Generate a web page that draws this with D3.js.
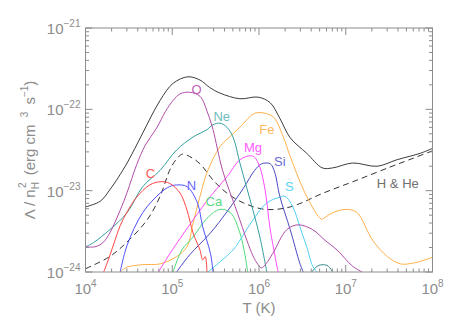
<!DOCTYPE html>
<html>
<head>
<meta charset="utf-8">
<script src="https://cdn.jsdelivr.net/npm/d3@7"></script>
<style>
  body { margin: 0; background: #fff; }
  text { font-family: "Liberation Sans", "DejaVu Sans", sans-serif; }
</style>
</head>
<body>
<svg id="chart" width="458" height="327"></svg>
<script>
// cooling function curves, pairs of [log10 T (K), log10 Lambda/nH^2 (erg cm^3 s^-1)]
const total = [[4.0,-23.20],[4.17,-23.13],[4.28,-22.99],[4.48,-22.66],[4.66,-22.29],[4.86,-21.89],
  [5.01,-21.68],[5.18,-21.60],[5.32,-21.64],[5.43,-21.73],[5.55,-21.80],[5.78,-21.87],[5.99,-21.85],
  [6.13,-21.92],[6.24,-22.11],[6.36,-22.35],[6.55,-22.54],[6.73,-22.72],[6.85,-22.72],[7.08,-22.66],
  [7.36,-22.70],[7.59,-22.62],[7.86,-22.54],[8.0,-22.48]];
const hHe = [[4.0,-23.96],[4.28,-23.81],[4.47,-23.64],[4.71,-23.36],[4.86,-23.07],[4.97,-22.75],
  [5.05,-22.61],[5.12,-22.55],[5.20,-22.58],[5.32,-22.67],[5.47,-22.87],[5.63,-23.03],[5.82,-23.15],
  [6.07,-23.23],[6.36,-23.20],[6.74,-23.03],[7.13,-22.87],[7.51,-22.71],[7.78,-22.60],[8.0,-22.51]];
const carbon = [[4.21,-24.0],[4.27,-23.83],[4.34,-23.61],[4.40,-23.43],[4.48,-23.26],[4.59,-23.08],
  [4.74,-22.93],[4.86,-22.89],[4.97,-22.91],[5.09,-23.03],[5.17,-23.24],[5.24,-23.52],[5.32,-23.73],
  [5.35,-23.85],[5.38,-23.81],[5.40,-24.0]];
const nitrogen = [[4.40,-24.0],[4.48,-23.67],[4.66,-23.27],[4.86,-23.03],[4.97,-22.95],[5.05,-22.93],
  [5.17,-22.95],[5.29,-23.15],[5.35,-23.44],[5.44,-23.77],[5.47,-24.0]];
const oxygen = [[4.0,-23.69],[4.11,-23.69],[4.20,-23.64],[4.28,-23.52],[4.40,-23.24],[4.48,-23.02],
  [4.59,-22.68],[4.69,-22.44],[4.82,-22.23],[4.92,-22.03],[5.01,-21.89],[5.09,-21.81],[5.20,-21.79],
  [5.32,-21.84],[5.41,-22.05],[5.47,-22.25],[5.58,-22.75],[5.75,-23.27],[5.86,-23.61],[5.93,-23.80],
  [5.99,-23.91],[6.03,-23.95],[6.08,-23.90],[6.16,-23.77],[6.32,-23.48],[6.45,-23.42],[6.62,-23.48],
  [6.76,-23.61],[6.90,-23.73],[7.08,-23.93],[7.19,-24.0]];
const neon = [[4.0,-23.69],[4.09,-23.64],[4.28,-23.48],[4.48,-23.27],[4.66,-22.95],[4.86,-22.75],
  [5.05,-22.50],[5.24,-22.34],[5.40,-22.25],[5.47,-22.19],[5.55,-22.17],[5.63,-22.22],[5.70,-22.34],
  [5.78,-22.66],[5.86,-22.97],[5.93,-23.24],[6.01,-23.57],[6.09,-24.0]];
const iron = [[4.40,-24.0],[4.48,-23.94],[4.66,-23.91],[4.86,-23.90],[5.05,-23.81],[5.17,-23.69],
  [5.24,-23.40],[5.32,-23.07],[5.40,-22.78],[5.55,-22.46],[5.67,-22.33],[5.78,-22.22],[5.93,-22.06],
  [6.01,-22.04],[6.16,-22.09],[6.28,-22.34],[6.36,-22.58],[6.55,-23.07],[6.72,-23.35],[6.76,-23.33],
  [6.85,-23.27],[7.01,-23.23],[7.13,-23.27],[7.31,-23.61],[7.48,-23.81],[7.63,-23.90],[7.78,-23.89],
  [8.0,-23.82]];
const magnesium = [[4.84,-24.0],[5.00,-23.73],[5.24,-23.36],[5.44,-23.07],[5.63,-22.83],[5.78,-22.62],
  [5.90,-22.57],[5.95,-22.59],[6.01,-22.71],[6.07,-22.99],[6.13,-23.48],[6.22,-24.0]];
const silicon = [[5.05,-24.0],[5.20,-23.79],[5.44,-23.52],[5.63,-23.26],[5.82,-22.97],[5.95,-22.75],
  [6.03,-22.67],[6.13,-22.67],[6.18,-22.77],[6.24,-23.07],[6.36,-23.48],[6.47,-23.89],[6.51,-24.0]];
const sulphur = [[5.41,-24.0],[5.70,-23.73],[5.78,-23.61],[5.93,-23.36],[6.09,-23.15],[6.24,-23.08],
  [6.30,-23.07],[6.39,-23.20],[6.47,-23.44],[6.55,-23.69],[6.62,-23.93],[6.67,-24.0]];
const calcium = [[5.01,-24.0],[5.11,-23.73],[5.24,-23.57],[5.40,-23.34],[5.55,-23.23],[5.67,-23.27],
  [5.78,-23.52],[5.84,-23.80],[5.87,-24.0]];
const other = [[6.61,-24.0],[6.67,-23.93],[6.74,-23.91],[6.80,-23.93],[6.85,-24.0]];

// label anchors [text, log T, log Lambda]
const labels = [["O",5.28,-21.75],["Ne",5.57,-22.09],["Fe",6.09,-22.25],["C",4.75,-22.79],
  ["N",5.22,-22.94],["Ca",5.48,-23.13],["Mg",5.93,-22.47],["Si",6.24,-22.64],["S",6.35,-22.95],
  ["H & He",7.60,-22.91]];
const xDecades = [4,5,6,7,8];
const yDecades = [-24,-23,-22,-21];

const W = 458, H = 327;
const M = {top:28, right:25.5, bottom:55, left:85.5};
const svg = d3.select("#chart");
const grey = "#8c8c8c";

const X = d3.scaleLog().domain([1e4,1e8]).range([M.left, W-M.right]);
const Y = d3.scaleLog().domain([1e-24,1e-21]).range([H-M.bottom, M.top]);

svg.append("defs").append("clipPath").attr("id","clip")
  .append("rect").attr("x",M.left).attr("y",M.top)
  .attr("width",W-M.left-M.right).attr("height",H-M.top-M.bottom);

const line = d3.line()
  .x(d=>X(10**d[0]))
  .y(d=>Y(10**d[1]))
  .curve(d3.curveCatmullRom.alpha(0.5));

const series = [
  {d:hHe, c:"#333", dash:"6,4"},
  {d:other, c:"#2f8585"},
  {d:iron, c:"#ffb04a"},
  {d:calcium, c:"#4ed87a"},
  {d:sulphur, c:"#4fd0f2"},
  {d:silicon, c:"#4a4ac2"},
  {d:magnesium, c:"#ff4cff"},
  {d:neon, c:"#349e9e"},
  {d:nitrogen, c:"#5050ff"},
  {d:carbon, c:"#ff4444"},
  {d:oxygen, c:"#b04ca8"},
  {d:total, c:"#3c3c3c"}
];

const plot = svg.append("g").attr("clip-path","url(#clip)");
series.forEach(s=>{
  plot.append("path")
    .attr("d",line(s.d))
    .attr("fill","none")
    .attr("stroke",s.c)
    .attr("stroke-width",1)
    .attr("stroke-dasharray",s.dash||null);
});

// labels in series colours
const labelColour = {"O":"#c060b8","Ne":"#6cbcbc","Fe":"#ffb860","C":"#ff5a5a","N":"#6a6aff",
  "Ca":"#5ada86","Mg":"#ff5cff","Si":"#6a6ad0","S":"#5ad4f2","H & He":"#707070"};
svg.append("g").selectAll("text").data(labels).join("text")
  .attr("x",d=>X(10**d[1]))
  .attr("y",d=>Y(10**d[2]))
  .attr("dy","0.35em")
  .attr("text-anchor","middle")
  .attr("font-size",13)
  .attr("fill",d=>labelColour[d[0]])
  .text(d=>d[0]);

// frame and ticks
const frame = svg.append("g").attr("stroke",grey).attr("stroke-width",1).attr("fill","none");
frame.append("rect").attr("x",M.left).attr("y",M.top)
  .attr("width",W-M.left-M.right).attr("height",H-M.top-M.bottom);

const xt = [], yt = [];
xDecades.forEach(p=>{ for(let m=1;m<=9;m++){ const v=m*10**p; if(v<=1e8) xt.push([v,m===1]); } });
yDecades.forEach(p=>{ for(let m=1;m<=9;m++){ const v=m*10**p; if(v<=1.0001e-21) yt.push([v,m===1]); } });

xt.forEach(([v,maj])=>{
  const L = maj?7:3.5, px = X(v);
  frame.append("line").attr("x1",px).attr("x2",px).attr("y1",H-M.bottom).attr("y2",H-M.bottom-L);
  frame.append("line").attr("x1",px).attr("x2",px).attr("y1",M.top).attr("y2",M.top+L);
});
yt.forEach(([v,maj])=>{
  const L = maj?7:3.5, py = Y(v);
  frame.append("line").attr("x1",M.left).attr("x2",M.left+L).attr("y1",py).attr("y2",py);
  frame.append("line").attr("x1",W-M.right).attr("x2",W-M.right-L).attr("y1",py).attr("y2",py);
});

// tick labels
const tl = svg.append("g").attr("fill",grey).attr("font-size",15);
xDecades.forEach(p=>{
  const t = tl.append("text").attr("x",X(10**p)).attr("y",H-M.bottom+22).attr("text-anchor","middle");
  t.append("tspan").text("10");
  t.append("tspan").attr("dy",-7).attr("font-size",10).text(p);
});
yDecades.forEach(p=>{
  const t = tl.append("text").attr("x",M.left-5).attr("y",Y(10**p)+6).attr("text-anchor","end");
  t.append("tspan").text("10");
  t.append("tspan").attr("dy",-7).attr("font-size",10).text("\u2212"+Math.abs(p));
});

// axis titles
tl.append("text").attr("x",(M.left+W-M.right)/2).attr("y",H-14)
  .attr("text-anchor","middle").text("T (K)");
const yt2 = tl.append("text")
  .attr("transform",`translate(35,${(M.top+H-M.bottom)/2}) rotate(-90)`)
  .attr("text-anchor","middle");
yt2.append("tspan").text("\u039B / n");
yt2.append("tspan").attr("dy",4).attr("font-size",10).text("H");
yt2.append("tspan").attr("dy",-13).attr("dx",-6).attr("font-size",10).text("2");
yt2.append("tspan").attr("dy",9).text("\u2009 (erg cm\u2009 ");
yt2.append("tspan").attr("dy",-7).attr("font-size",10).text("3");
yt2.append("tspan").attr("dy",7).text("\u2009 s");
yt2.append("tspan").attr("dy",-7).attr("font-size",10).text("\u22121");
yt2.append("tspan").attr("dy",7).text(")");
</script>
</body>
</html>
